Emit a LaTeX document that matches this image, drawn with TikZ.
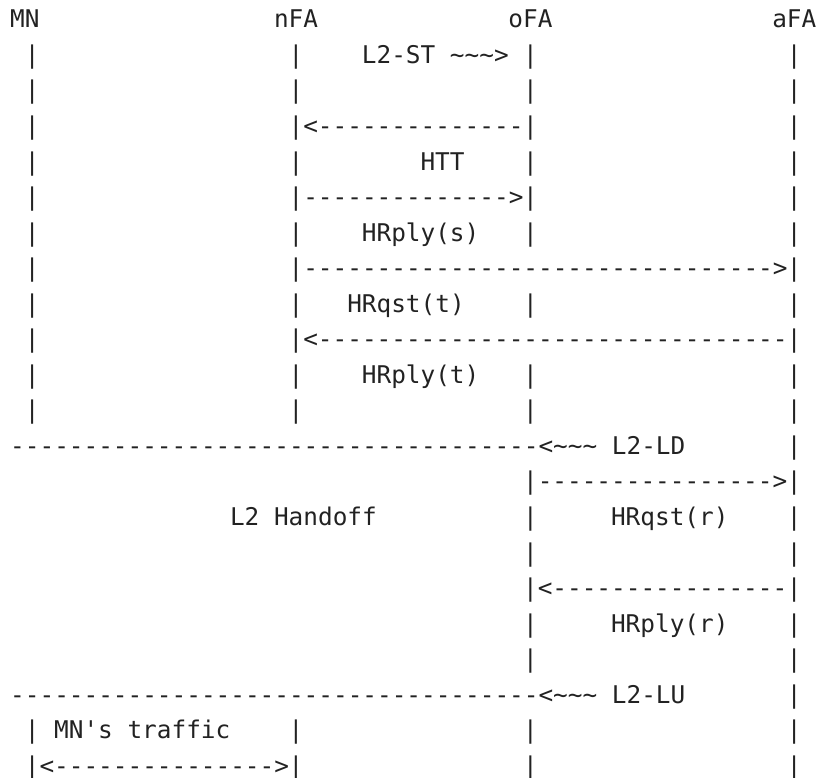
\documentclass[tikz,border=0pt]{standalone}
\usepackage{fontspec}
\setmonofont{DejaVu Sans Mono}
\usepackage{xcolor}
\definecolor{ink}{HTML}{222222}
\ExplSyntaxOn
\cs_new:Npn \dashrun #1 { \prg_replicate:nn {#1} {-} }
\ExplSyntaxOff
\newcommand\wave{\textasciitilde\textasciitilde\textasciitilde}

\begin{document}
\begin{tikzpicture}[x=11.025pt, y=-26.74pt,
  ascii/.style={anchor=base west, inner sep=0pt, text=ink,
    font=\ttfamily\fontsize{18.34}{26.74}\selectfont}]
\useasboundingbox (-0.68,-0.785) rectangle (55.14,21.094);

% entities
\node[ascii] (mn) at (0,0) {MN};
\node[ascii] (nfa) at (18,0) {nFA};
\node[ascii] (ofa) at (34,0) {oFA};
\node[ascii] (afa) at (52,0) {aFA};

% life lines
\foreach \r in {1,...,11,20,21}
  \foreach \c in {1,19}
    \node[ascii] (p\r-\c) at (\c,\r) {|};
\foreach \r in {1,...,6,8,10,11,13,14,...,18,20,21}
  \node[ascii] (p\r-35) at (35,\r) {|};
\foreach \r in {1,...,21}
  \node[ascii] (p\r-53) at (53,\r) {|};

% messages
\node[ascii] (lst) at (24,1) {L2-ST \wave>};
\node[ascii] (htt1) at (20,3) {<\dashrun{14}};
\node[ascii] (htt) at (28,4) {HTT};
\node[ascii] (htt2) at (20,5) {\dashrun{14}>};
\node[ascii] (hrplys) at (24,6) {HRply(s)};
\node[ascii] (arrs) at (20,7) {\dashrun{32}>};
\node[ascii] (hrqstt) at (23,8) {HRqst(t)};
\node[ascii] (arrt) at (20,9) {<\dashrun{32}};
\node[ascii] (hrplyt) at (24,10) {HRply(t)};

% link down
\node[ascii] (lld) at (0,12) {\dashrun{36}<\wave{} L2-LD};
\node[ascii] (arrr1) at (36,13) {\dashrun{16}>};
\node[ascii] (hoff) at (15,14) {L2 Handoff};
\node[ascii] (hrqstr) at (41,14) {HRqst(r)};
\node[ascii] (arrr2) at (36,16) {<\dashrun{16}};
\node[ascii] (hrplyr) at (41,17) {HRply(r)};

% link up
\node[ascii] (llu) at (0,19) {\dashrun{36}<\wave{} L2-LU};
\node[ascii] (traffic) at (3,20) {MN's traffic};
\node[ascii] (arrmn) at (2,21) {<\dashrun{15}>};

\end{tikzpicture}
\end{document}
